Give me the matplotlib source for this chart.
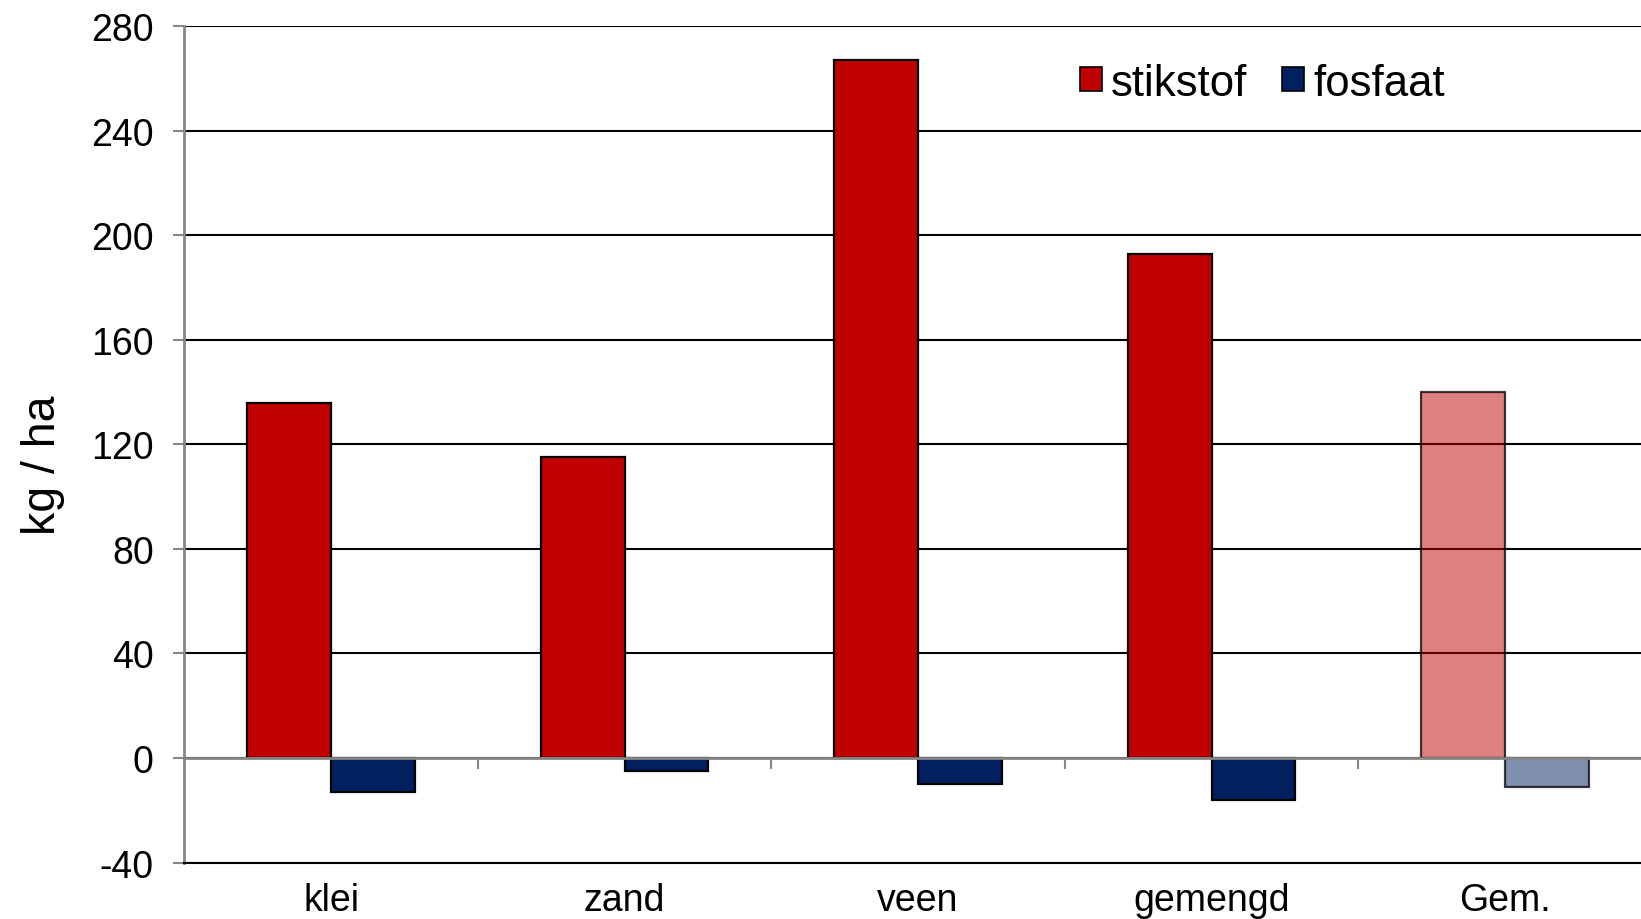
import matplotlib
matplotlib.use("Agg")
import matplotlib.pyplot as plt
from matplotlib.colors import to_rgba
from matplotlib.patches import Patch
import numpy as np

plt.rcParams['font.family'] = ['Liberation Sans', 'DejaVu Sans']
plt.rcParams['axes.unicode_minus'] = False

categories = ['klei', 'zand', 'veen', 'gemengd', 'Gem.']
stikstof = [136, 115, 267, 193, 140]
fosfaat = [-13, -5, -10, -16, -11]
yticks = [-40, 0, 40, 80, 120, 160, 200, 240, 280]

red = '#C00000'
blue = '#002060'
# the average group ("Gem.") is drawn translucent
alphas = [1, 1, 1, 1, 0.5]

fig = plt.figure(figsize=(16.41, 9.2), dpi=100)
ax = fig.add_axes([0.11228, 0.0614, 0.8943, 0.909])

x = np.arange(len(categories))
w = 0.2857
red_fc = [to_rgba(red, a) for a in alphas]
blue_fc = [to_rgba(blue, a) for a in alphas]
edge = [to_rgba('black', 1 if a == 1 else 0.75) for a in alphas]

ax.bar(x - w / 2, stikstof, w, color=red_fc, edgecolor=edge, linewidth=1.6, zorder=3)
ax.bar(x + w / 2, fosfaat, w, color=blue_fc, edgecolor=edge, linewidth=1.6, zorder=3)

ax.set_xlim(-0.5, len(categories) - 0.5)
ax.set_ylim(yticks[0], yticks[-1])
ax.set_yticks(yticks)
ax.set_axisbelow(True)
ax.yaxis.grid(True, color='black', linewidth=1.5)

ax.set_xticks(x)
ax.set_xticklabels(categories, fontsize=27)
ax.tick_params(axis='x', length=0, pad=14)
ax.tick_params(axis='y', labelsize=27, length=8, width=1.5, color='#868686', pad=14)

for s in ['top', 'right']:
    ax.spines[s].set_visible(False)
ax.spines['left'].set_color('#868686')
ax.spines['left'].set_linewidth(2)
ax.spines['bottom'].set_color('black')
ax.spines['bottom'].set_linewidth(1.5)

# category axis line at zero, with separators between groups
zero_frac = (0 - yticks[0]) / (yticks[-1] - yticks[0])
sec = ax.secondary_xaxis(zero_frac)
sec.set_xticks(x[:-1] + 0.5)
sec.set_xticklabels([])
sec.tick_params(length=8, width=1.5, color='#868686', direction='out')
sec.spines['bottom'].set_color('#868686')
sec.spines['bottom'].set_linewidth(2)
sec.set_zorder(4)

ax.set_ylabel('kg / ha', fontsize=33.5)
ax.yaxis.set_label_coords(-0.081, 0.476)

handles = [Patch(facecolor=red, edgecolor='black', linewidth=1.2),
           Patch(facecolor=blue, edgecolor='black', linewidth=1.2)]
fig.legend(handles, ['stikstof', 'fosfaat'], loc='center left',
           bbox_to_anchor=(1080 / 1641, 1 - 84 / 920), ncol=2, frameon=False,
           fontsize=31.5, handlelength=0.5, handleheight=0.5,
           handletextpad=0.21, columnspacing=0.79, borderpad=0, borderaxespad=0)

fig.savefig('out.png', dpi=100)
